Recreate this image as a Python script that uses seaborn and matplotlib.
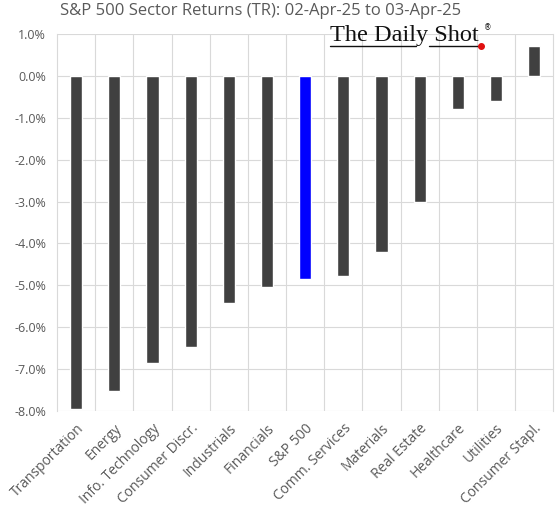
import pandas as pd
import matplotlib
matplotlib.use('Agg')
import matplotlib.pyplot as plt
import seaborn as sns
from matplotlib.lines import Line2D
from matplotlib.ticker import FuncFormatter, MultipleLocator

# Sector returns (%)
sectors = ['Transportation', 'Energy', 'Info. Technology', 'Consumer Discr.',
           'Industrials', 'Financials', 'S&P 500', 'Comm. Services',
           'Materials', 'Real Estate', 'Healthcare', 'Utilities',
           'Consumer Stapl.']
returns = [-7.94, -7.53, -6.86, -6.46, -5.42, -5.03, -4.84, -4.78,
           -4.20, -3.00, -0.80, -0.60, 0.72]

df = pd.DataFrame({'sector': sectors, 'ret': returns})
palette = {s: ('#0000ff' if s == 'S&P 500' else '#404040') for s in sectors}

sns.set_style('white')
plt.rcParams['font.family'] = ['Open Sans', 'DejaVu Sans']

fig = plt.figure(figsize=(5.6, 5.21), dpi=100)
ax = fig.add_axes([0.102, 0.211, 0.886, 0.724])

sns.barplot(data=df, x='sector', y='ret', hue='sector', palette=palette,
            width=0.32, legend=False, ax=ax, saturation=1)

ax.set_ylim(-8, 1)
ax.set_xlim(-0.5, len(sectors) - 0.5)
ax.yaxis.set_major_locator(MultipleLocator(1))
ax.yaxis.set_major_formatter(FuncFormatter(lambda v, p: f'{v:.1f}%'))

# gridlines: horizontal at each percent, vertical between categories
ax.set_xticks([i + 0.5 for i in range(len(sectors) - 1)], minor=True)
ax.grid(axis='y', which='major', color='#d9d9d9', lw=0.8)
ax.grid(axis='x', which='minor', color='#d9d9d9', lw=0.8)
ax.set_axisbelow(True)
for side, sp in ax.spines.items():
    sp.set_visible(side in ('left', 'right'))
    sp.set_color('#d9d9d9')
    sp.set_linewidth(0.8)

ax.set_xticks(range(len(sectors)))
ax.set_xticklabels(sectors, rotation=45, ha='right', rotation_mode='anchor',
                   fontsize=10, color='#595959')
ax.tick_params(axis='y', labelsize=9, labelcolor='#595959', length=0, pad=8)
ax.tick_params(axis='x', which='both', length=0, pad=7)
ax.set_xlabel('')
ax.set_ylabel('')

fig.text(0.466, 0.994, 'S&P 500 Sector Returns (TR): 02-Apr-25 to 03-Apr-25',
         ha='center', va='top', fontsize=12, color='#595959')

# logo
fig.text(0.589, 0.921, 'The Daily Shot', ha='left', va='baseline',
         fontsize=17.5, family='Liberation Serif', color='#111111')
fig.text(0.865, 0.943, '\u00ae', ha='left', va='baseline', fontsize=5.5,
         family='DejaVu Sans', color='#111111')
fig.add_artist(Line2D([0.589, 0.743], [0.911, 0.911], color='#111111', lw=1))
fig.add_artist(Line2D([0.766, 0.859], [0.911, 0.911], color='#111111', lw=1))
fig.add_artist(Line2D([0.859], [0.911], marker='o', ms=4, color='#e01010', lw=0))

fig.savefig('out.png', dpi=100, facecolor='white')
